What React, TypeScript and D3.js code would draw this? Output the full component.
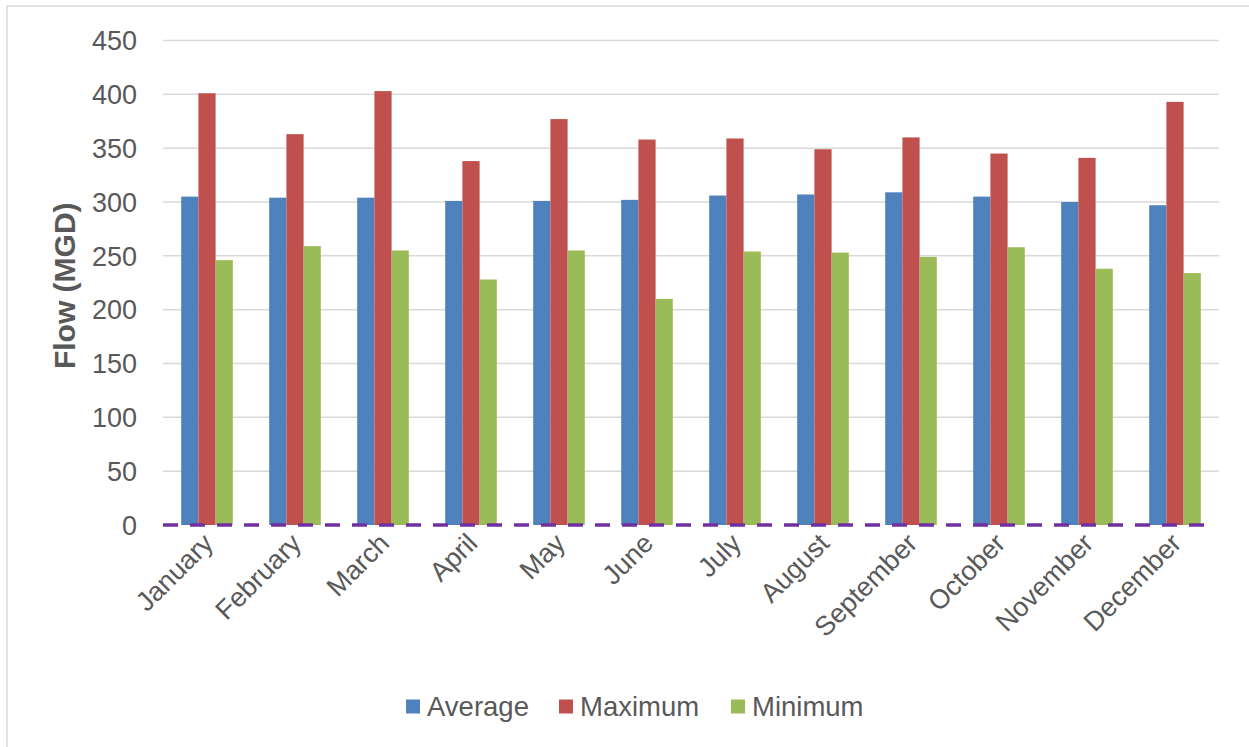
import * as d3 from "d3";
import { useEffect, useRef } from "react";

const months = [
  "January", "February", "March", "April", "May", "June",
  "July", "August", "September", "October", "November", "December",
];
const average = [305, 304, 304, 301, 301, 302, 306, 307, 309, 305, 300, 297];
const maximum = [401, 363, 403, 338, 377, 358, 359, 349, 360, 345, 341, 393];
const minimum = [246, 259, 255, 228, 255, 210, 254, 253, 249, 258, 238, 234];
const yTicks = [0, 50, 100, 150, 200, 250, 300, 350, 400, 450];

const seriesNames = ["Average", "Maximum", "Minimum"];
const seriesColors = ["#4F81BD", "#C0504D", "#9BBB59"];

const W = 1249;
const H = 747;

export default function App() {
  const ref = useRef<SVGSVGElement>(null);

  useEffect(() => {
    const svg = d3.select(ref.current);
    svg.selectAll("*").remove();

    const font = "'Liberation Sans', Arial, sans-serif";
    const left = 163, right = 1219, top = 40.5, bottom = 525;

    // outer chart border (only top/left visible)
    svg.append("rect")
      .attr("x", 7).attr("y", 6)
      .attr("width", W).attr("height", H)
      .attr("fill", "white")
      .attr("stroke", "#D9D9D9")
      .attr("stroke-width", 1.5);

    const x = d3.scaleBand<string>().domain(months).range([left, right]);
    const y = d3.scaleLinear().domain([0, 450]).range([bottom, top]);

    const barW = 17.2;
    const groupW = barW * 3;
    const inner = d3.scaleBand<string>()
      .domain(seriesNames)
      .range([0, groupW]);

    // gridlines
    svg.append("g")
      .selectAll("line")
      .data(yTicks.filter((t) => t > 0))
      .enter()
      .append("line")
      .attr("x1", left).attr("x2", right)
      .attr("y1", (d) => y(d)).attr("y2", (d) => y(d))
      .attr("stroke", "#D9D9D9")
      .attr("stroke-width", 1.5);

    // y tick labels
    svg.append("g")
      .selectAll("text")
      .data(yTicks)
      .enter()
      .append("text")
      .attr("x", 137)
      .attr("y", (d) => y(d))
      .attr("dy", "0.36em")
      .attr("text-anchor", "end")
      .attr("font-family", font)
      .attr("font-size", 27)
      .attr("fill", "#595959")
      .text((d) => d);

    // bars
    const series = [average, maximum, minimum];
    series.forEach((vals, si) => {
      svg.append("g")
        .selectAll("rect")
        .data(vals)
        .enter()
        .append("rect")
        .attr("x", (_, i) => x(months[i])! + (x.bandwidth() - groupW) / 2 + inner(seriesNames[si])!)
        .attr("y", (d) => y(d))
        .attr("width", barW)
        .attr("height", (d) => y(0) - y(d))
        .attr("fill", seriesColors[si]);
    });

    // dashed zero line
    svg.append("line")
      .attr("x1", left).attr("x2", right - 3)
      .attr("y1", y(0)).attr("y2", y(0))
      .attr("stroke", "#7030A0")
      .attr("stroke-width", 3.5)
      .attr("stroke-dasharray", "15,12");

    // x labels
    svg.append("g")
      .selectAll("text")
      .data(months)
      .enter()
      .append("text")
      .attr("transform", (d) => `translate(${x(d)! + x.bandwidth() / 2 + 1},${bottom + 13}) rotate(-45)`)
      .attr("dy", "0.36em")
      .attr("text-anchor", "end")
      .attr("font-family", font)
      .attr("font-size", 27)
      .attr("fill", "#595959")
      .text((d) => d);

    // y axis title
    svg.append("text")
      .attr("transform", `translate(75,${(top + bottom) / 2 + 3}) rotate(-90)`)
      .attr("text-anchor", "middle")
      .attr("font-family", font)
      .attr("font-size", 30)
      .attr("font-weight", "bold")
      .attr("fill", "#595959")
      .text("Flow (MGD)");

    // legend
    const legendX = [406, 559, 731];
    const lg = svg.append("g");
    seriesNames.forEach((name, i) => {
      lg.append("rect")
        .attr("x", legendX[i]).attr("y", 699.5)
        .attr("width", 14).attr("height", 14)
        .attr("fill", seriesColors[i]);
      lg.append("text")
        .attr("x", legendX[i] + 21).attr("y", 706.5)
        .attr("dy", "0.36em")
        .attr("font-family", font)
        .attr("font-size", 27.5)
        .attr("fill", "#595959")
        .text(name);
    });
  }, []);

  return (
    <svg
      ref={ref}
      width={W}
      height={H}
      style={{ position: "absolute", left: 0, top: 0, background: "white" }}
    />
  );
}
